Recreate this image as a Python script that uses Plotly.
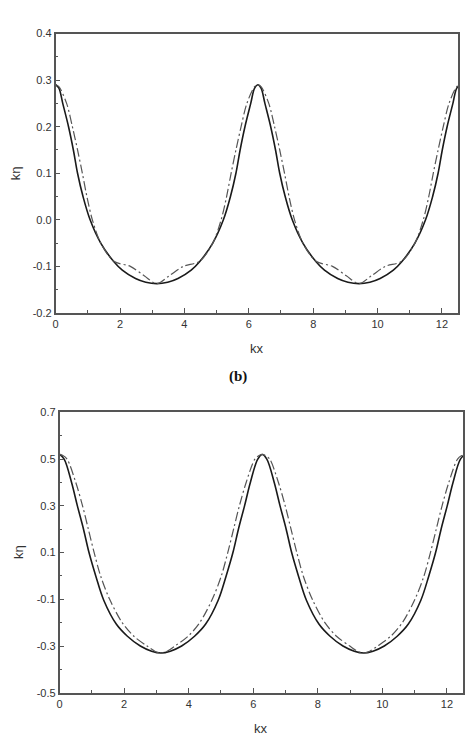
import plotly.graph_objects as go

# ---------------- data ----------------
# panel (a): top
top_solid_x = [0, 0.10, 0.22, 0.40, 0.55, 0.68, 0.85, 1.07, 1.40, 1.81, 2.07, 2.48, 2.80, 3.14,
               3.48, 3.80, 4.21, 4.47, 4.88, 5.21, 5.43, 5.60, 5.73, 5.88, 6.06, 6.18, 6.28,
               6.38, 6.50, 6.68, 6.83, 6.96, 7.13, 7.35, 7.68, 8.09, 8.35, 8.76, 9.08, 9.42,
               9.76, 10.08, 10.49, 10.75, 11.16, 11.49, 11.71, 11.88, 12.01, 12.16, 12.34, 12.46, 12.57]
top_solid_y = [0.29, 0.283, 0.25, 0.20, 0.15, 0.10, 0.05, 0.0, -0.05, -0.09, -0.108, -0.126, -0.134, -0.137,
               -0.134, -0.126, -0.108, -0.09, -0.05, 0.0, 0.05, 0.10, 0.15, 0.20, 0.25, 0.283, 0.29,
               0.283, 0.25, 0.20, 0.15, 0.10, 0.05, 0.0, -0.05, -0.09, -0.108, -0.126, -0.134, -0.137,
               -0.134, -0.126, -0.108, -0.09, -0.05, 0.0, 0.05, 0.10, 0.15, 0.20, 0.25, 0.283, 0.29]

top_dash_x = [0, 0.10, 0.34, 0.52, 0.68, 0.83, 0.97, 1.14, 1.40, 1.81, 2.32, 2.75, 3.14,
              3.53, 3.96, 4.47, 4.88, 5.14, 5.31, 5.45, 5.60, 5.76, 5.94, 6.18, 6.28,
              6.38, 6.62, 6.80, 6.96, 7.11, 7.25, 7.42, 7.68, 8.09, 8.60, 9.03, 9.42,
              9.81, 10.24, 10.75, 11.16, 11.42, 11.59, 11.73, 11.88, 12.04, 12.22, 12.46, 12.57]
top_dash_y = [0.29, 0.286, 0.25, 0.20, 0.15, 0.10, 0.05, 0.0, -0.05, -0.089, -0.10, -0.12, -0.137,
              -0.12, -0.10, -0.089, -0.05, 0.0, 0.05, 0.10, 0.15, 0.20, 0.25, 0.286, 0.29,
              0.286, 0.25, 0.20, 0.15, 0.10, 0.05, 0.0, -0.05, -0.089, -0.10, -0.12, -0.137,
              -0.12, -0.10, -0.089, -0.05, 0.0, 0.05, 0.10, 0.15, 0.20, 0.25, 0.286, 0.29]

# panel (b): bottom
bot_solid_x = [0, 0.14, 0.37, 0.55, 0.74, 0.91, 1.12, 1.37, 1.76, 2.10, 2.50, 2.85, 3.14,
               3.43, 3.78, 4.18, 4.52, 4.91, 5.16, 5.37, 5.54, 5.73, 5.91, 6.14, 6.28,
               6.42, 6.65, 6.83, 7.02, 7.19, 7.40, 7.65, 8.04, 8.38, 8.78, 9.13, 9.42,
               9.71, 10.06, 10.46, 10.80, 11.19, 11.44, 11.65, 11.82, 12.01, 12.19, 12.42, 12.57]
bot_solid_y = [0.52, 0.50, 0.40, 0.30, 0.20, 0.10, 0.0, -0.105, -0.207, -0.258, -0.300, -0.322, -0.33,
               -0.322, -0.300, -0.258, -0.207, -0.105, 0.0, 0.10, 0.20, 0.30, 0.40, 0.50, 0.52,
               0.50, 0.40, 0.30, 0.20, 0.10, 0.0, -0.105, -0.207, -0.258, -0.300, -0.322, -0.33,
               -0.322, -0.300, -0.258, -0.207, -0.105, 0.0, 0.10, 0.20, 0.30, 0.40, 0.50, 0.52]

bot_dash_x = [0, 0.10, 0.23, 0.50, 0.71, 0.89, 1.07, 1.27, 1.55, 1.94, 2.30, 2.71, 2.95, 3.14,
              3.33, 3.57, 3.98, 4.34, 4.73, 5.01, 5.21, 5.39, 5.57, 5.78, 6.05, 6.18, 6.28,
              6.38, 6.51, 6.78, 6.99, 7.17, 7.35, 7.55, 7.83, 8.22, 8.58, 8.99, 9.23, 9.42,
              9.61, 9.85, 10.26, 10.62, 11.01, 11.29, 11.49, 11.67, 11.85, 12.06, 12.33, 12.46, 12.57]
bot_dash_y = [0.52, 0.515, 0.50, 0.40, 0.30, 0.20, 0.10, 0.0, -0.10, -0.20, -0.258, -0.30, -0.322, -0.33,
              -0.322, -0.30, -0.258, -0.20, -0.10, 0.0, 0.10, 0.20, 0.30, 0.40, 0.50, 0.515, 0.52,
              0.515, 0.50, 0.40, 0.30, 0.20, 0.10, 0.0, -0.10, -0.20, -0.258, -0.30, -0.322, -0.33,
              -0.322, -0.30, -0.258, -0.20, -0.10, 0.0, 0.10, 0.20, 0.30, 0.40, 0.50, 0.515, 0.52]

x_ticks = [0, 2, 4, 6, 8, 10, 12]
x_ticklabels = ["0", "2", "4", "6", "8", "10", "12"]
top_y_ticks = [0.4, 0.3, 0.2, 0.1, 0.0, -0.1, -0.2]
top_y_ticklabels = ["0.4", "0.3", "0.2", "0.1", "0.0", "-0.1", "-0.2"]
bot_y_ticks = [0.7, 0.5, 0.3, 0.1, -0.1, -0.3, -0.5]
bot_y_ticklabels = ["0.7", "0.5", "0.3", "0.1", "-0.1", "-0.3", "-0.5"]

# ---------------- figure ----------------
W, H = 467, 747
FONT = "Liberation Sans, Arial, sans-serif"
AXC = "#555555"
TXT = "#333333"

fig = go.Figure()
solid_style = dict(color="#1a1a1a", width=1.6, shape="spline", smoothing=1.0)
dash_style = dict(color="#555555", width=1.2, dash="9px,3px,2px,3px", shape="spline", smoothing=0.9)

fig.add_trace(go.Scatter(x=top_solid_x, y=top_solid_y, mode="lines", line=solid_style,
                         xaxis="x", yaxis="y", showlegend=False, hoverinfo="skip"))
fig.add_trace(go.Scatter(x=top_dash_x, y=top_dash_y, mode="lines", line=dash_style,
                         xaxis="x", yaxis="y", showlegend=False, hoverinfo="skip"))
fig.add_trace(go.Scatter(x=bot_solid_x, y=bot_solid_y, mode="lines", line=solid_style,
                         xaxis="x2", yaxis="y2", showlegend=False, hoverinfo="skip"))
fig.add_trace(go.Scatter(x=bot_dash_x, y=bot_dash_y, mode="lines", line=dash_style,
                         xaxis="x2", yaxis="y2", showlegend=False, hoverinfo="skip"))


def xax(domain, anchor):
    return dict(domain=domain, anchor=anchor, range=[0, 12.5],
                tickmode="array", tickvals=x_ticks, ticktext=x_ticklabels,
                ticks="inside", ticklen=5, tickwidth=1.2, tickcolor=AXC,
                minor=dict(tickmode="linear", tick0=1, dtick=2, ticks="inside",
                           ticklen=3, tickwidth=1.2, tickcolor=AXC),
                showline=True, linecolor=AXC, linewidth=1.6, mirror=True,
                showgrid=False, zeroline=False,
                tickfont=dict(family=FONT, size=11, color=TXT))


def yax(domain, anchor, rng, vals, labels, mdtick, mtick0):
    return dict(domain=domain, anchor=anchor, range=rng,
                tickmode="array", tickvals=vals, ticktext=labels,
                ticks="inside", ticklen=5, tickwidth=1.2, tickcolor=AXC,
                minor=dict(tickmode="linear", tick0=mtick0, dtick=mdtick, ticks="inside",
                           ticklen=3, tickwidth=1.2, tickcolor=AXC),
                showline=True, linecolor=AXC, linewidth=1.6, mirror=True,
                showgrid=False, zeroline=False,
                tickfont=dict(family=FONT, size=11, color=TXT))


top_xd = [53 / W, 458 / W]
top_yd = [1 - 312 / H, 1 - 28 / H]
bot_xd = [57 / W, 463 / W]
bot_yd = [1 - 698 / H, 1 - 413 / H]

fig.update_layout(
    width=W, height=H,
    margin=dict(l=0, r=0, t=0, b=0),
    paper_bgcolor="white", plot_bgcolor="white",
    xaxis=xax(top_xd, "y"),
    yaxis=yax(top_yd, "x", [-0.2, 0.4], top_y_ticks, top_y_ticklabels, 0.05, 0.05),
    xaxis2=xax(bot_xd, "y2"),
    yaxis2=yax(bot_yd, "x2", [-0.5, 0.7], bot_y_ticks, bot_y_ticklabels, 0.1, 0.0),
)

ann = [
    dict(text="kη", x=12 / W, y=1 - 170 / H, textangle=-90,
         font=dict(family=FONT, size=13, color=TXT)),
    dict(text="kx", x=255.5 / W, y=1 - 348 / H,
         font=dict(family=FONT, size=13, color=TXT)),
    dict(text="<b>(b)</b>", x=237 / W, y=1 - 377 / H,
         font=dict(family="Liberation Serif, Times New Roman, serif", size=15, color="#111111")),
    dict(text="kη", x=15 / W, y=1 - 555 / H, textangle=-90,
         font=dict(family=FONT, size=13, color=TXT)),
    dict(text="kx", x=260 / W, y=1 - 734 / H,
         font=dict(family=FONT, size=13, color=TXT)),
]
for a in ann:
    a.update(xref="paper", yref="paper", showarrow=False, xanchor="center", yanchor="middle")
fig.update_layout(annotations=ann)

fig.write_html("out.html")
